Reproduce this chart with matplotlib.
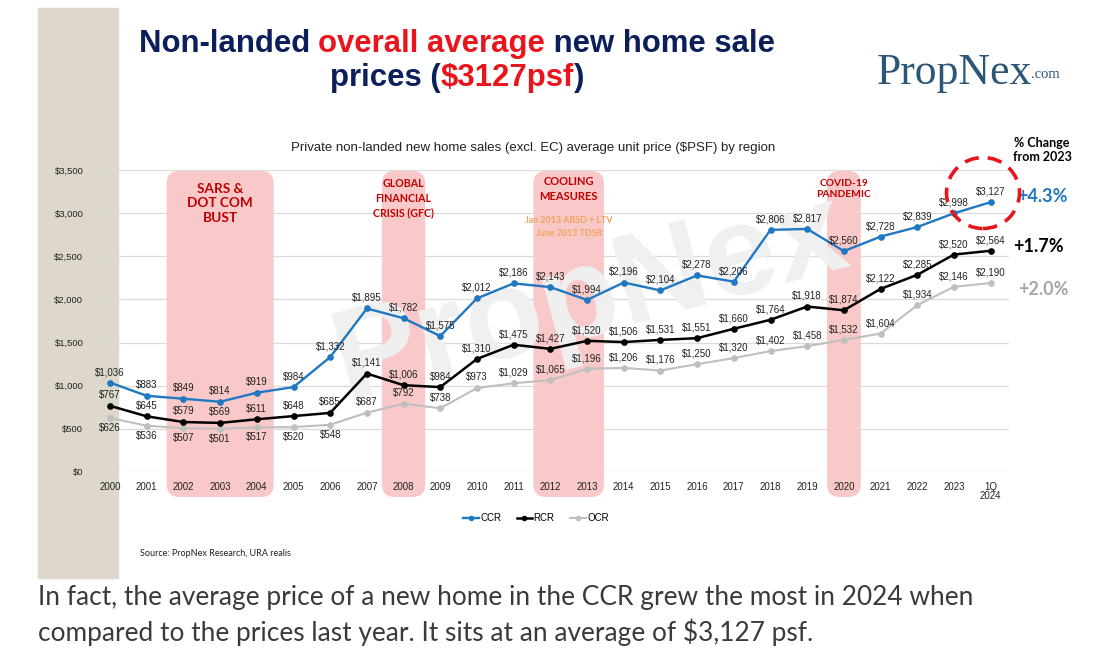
import numpy as np
import matplotlib
matplotlib.use("Agg")
import matplotlib.pyplot as plt
from matplotlib.patches import FancyBboxPatch, Rectangle, Ellipse
from matplotlib.offsetbox import TextArea, HPacker, AnnotationBbox
from matplotlib.lines import Line2D

# ---- data ----
years = ["2000", "2001", "2002", "2003", "2004", "2005", "2006", "2007", "2008", "2009",
         "2010", "2011", "2012", "2013", "2014", "2015", "2016", "2017", "2018", "2019",
         "2020", "2021", "2022", "2023", "1Q\n2024"]
ccr = [1036, 883, 849, 814, 919, 984, 1332, 1895, 1782, 1575, 2012, 2186, 2143, 1994,
       2196, 2104, 2278, 2206, 2806, 2817, 2560, 2728, 2839, 2998, 3127]
rcr = [767, 645, 579, 569, 611, 648, 685, 1141, 1006, 984, 1310, 1475, 1427, 1520,
       1506, 1531, 1551, 1660, 1764, 1918, 1874, 2122, 2285, 2520, 2564]
ocr = [626, 536, 507, 501, 517, 520, 548, 687, 792, 738, 973, 1029, 1065, 1196,
       1206, 1176, 1250, 1320, 1402, 1458, 1532, 1604, 1934, 2146, 2190]
yticks = [0, 500, 1000, 1500, 2000, 2500, 3000, 3500]

# shaded events: (first index, last index)
events = [(2, 4), (8, 8), (12, 13), (20, 20)]
changes = ["+4.3%", "+1.7%", "+2.0%"]

W, H = 1100, 651
NAVY = "#0C1F5B"
RED = "#E8161C"
BLUE = "#1F78C1"
GREY = "#BFBFBF"
DARKRED = "#C00000"


def fx(px):
    return px / W


def fy(py):
    return 1 - py / H


fig = plt.figure(figsize=(11, 6.51), dpi=100)
fig.patch.set_facecolor("white")

# beige strip on the left
fig.patches.append(Rectangle((fx(38), fy(578)), fx(118) - fx(38), fy(8) - fy(578),
                             transform=fig.transFigure, color="#DDD8CB", zorder=-1))

ax = fig.add_axes([fx(97.2), fy(472), fx(1009) - fx(97.2), fy(170) - fy(472)])
ax.set_zorder(2)
ax.set_facecolor("none")
x = np.arange(len(years))
ax.set_xlim(-0.35, 24.5)
ax.set_ylim(0, 3500)

for s in ax.spines.values():
    s.set_visible(False)
ax.set_yticks(yticks)
ax.set_yticklabels(["${:,}".format(v) for v in yticks], fontsize=6.8, color="#222222",
                   family="Liberation Sans")
ax.set_xticks(x)
ax.set_xticklabels(years, fontsize=7, color="#222222", family="Liberation Sans",
                   linespacing=0.95)
ax.tick_params(axis="y", length=0, pad=10)
ax.tick_params(axis="x", length=0, pad=7)
for v in yticks:
    ax.axhline(v, color="#DADADA", lw=0.9, zorder=0.5)

# rounded event bands
fig.canvas.draw()
bb = ax.get_window_extent()
px_per_x = bb.width / 24.85
px_per_y = bb.height / 3500
asp = px_per_x / px_per_y
for i0, i1 in events:
    half = 0.59 if i0 == i1 == 8 else 0.46
    band = FancyBboxPatch((i0 - half, -290), (i1 - i0) + 2 * half, 3780,
                          boxstyle="round,pad=0,rounding_size=0.35",
                          mutation_aspect=asp, fc="#F9C8C8", ec="none",
                          zorder=0.8, clip_on=False)
    ax.add_patch(band)

# watermark
ax.text(13.1, 2000, "PropNex", fontsize=92, fontweight="bold", color="#F0F0F0",
        rotation=15, ha="center", va="center", zorder=0.9, family="Liberation Sans")

# lines
ax.plot(x, ocr, color=GREY, lw=1.5, marker="o", ms=3.8, zorder=3, label="OCR")
ax.plot(x, rcr, color="black", lw=1.8, marker="o", ms=3.8, zorder=4, label="RCR")
ax.plot(x, ccr, color=BLUE, lw=1.7, marker="o", ms=3.8, zorder=5, label="CCR")

lab = dict(fontsize=7, color="#222222", family="Liberation Sans", ha="center", zorder=6)
for i in range(len(years)):
    ax.annotate("${:,}".format(ccr[i]), (x[i], ccr[i]), xytext=(0, 4),
                textcoords="offset points", va="bottom", **lab)
    ax.annotate("${:,}".format(rcr[i]), (x[i], rcr[i]), xytext=(0, 4),
                textcoords="offset points", va="bottom", **lab)
    if i <= 6:
        ax.annotate("${:,}".format(ocr[i]), (x[i], ocr[i]), xytext=(0, -3.5),
                    textcoords="offset points", va="top", **lab)
    else:
        ax.annotate("${:,}".format(ocr[i]), (x[i], ocr[i]), xytext=(0, 4),
                    textcoords="offset points", va="bottom", **lab)

# event labels
ev = dict(color=DARKRED, fontweight="bold", family="Lato", ha="center", va="center",
          zorder=6)
ax.text(3, 3117, "SARS &\nDOT COM\nBUST", fontsize=9.8, linespacing=1.25, **ev)
ax.text(8, 3175, "GLOBAL\nFINANCIAL\nCRISIS (GFC)", fontsize=7.7, linespacing=1.35, **ev)
ax.text(12.5, 3280, "COOLING\nMEASURES", fontsize=8, linespacing=1.35, **ev)
ax.text(12.5, 2840, "Jan 2013 ABSD + LTV\nJune 2013 TDSR", fontsize=6.4, color="#F0A35A",
        fontweight="bold", family="Lato", ha="center", va="center", linespacing=1.45,
        zorder=6)
ax.text(20, 3280, "COVID-19\nPANDEMIC", fontsize=7.4, linespacing=1.35, **ev)

# legend
handles = [Line2D([], [], color=BLUE, lw=1.7, marker="o", ms=3),
           Line2D([], [], color="black", lw=1.8, marker="o", ms=3),
           Line2D([], [], color=GREY, lw=1.5, marker="o", ms=3)]
fig.legend(handles, ["CCR", "RCR", "OCR"], loc="center",
           bbox_to_anchor=(fx(536), fy(518)), ncol=3, frameon=False,
           prop={"family": "Liberation Sans", "size": 7}, handlelength=1.6,
           handletextpad=0.15, columnspacing=1.6)

# title with mixed colours
tp = dict(fontsize=22.4, fontweight="bold", family="Liberation Sans")
line1 = HPacker(children=[TextArea("Non-landed ", textprops=dict(color=NAVY, **tp)),
                          TextArea("overall average", textprops=dict(color=RED, **tp)),
                          TextArea(" new home sale", textprops=dict(color=NAVY, **tp))],
                sep=0, pad=0, align="baseline")
line2 = HPacker(children=[TextArea("prices (", textprops=dict(color=NAVY, **tp)),
                          TextArea("$3127psf", textprops=dict(color=RED, **tp)),
                          TextArea(")", textprops=dict(color=NAVY, **tp))],
                sep=0, pad=0, align="baseline")
for box, py in [(line1, 44), (line2, 78)]:
    fig.add_artist(AnnotationBbox(box, (fx(457), fy(py)), xycoords="figure fraction",
                                  frameon=False, box_alignment=(0.5, 0.5), pad=0))

# PropNex logo
fig.text(fx(877), fy(84), "PropNex", fontsize=31.5, color="#2C5676",
         family="Liberation Serif", ha="left", va="baseline")
fig.text(fx(1031), fy(78), ".com", fontsize=10.5, color="#2C5676",
         family="Liberation Serif", ha="left", va="baseline")

# subtitle
fig.text(fx(533), fy(148),
         "Private non-landed new home sales (excl. EC) average unit price ($PSF) by region",
         fontsize=9.5, color="#222222", family="Liberation Sans", ha="center", va="center")

# % change annotations
fig.text(fx(1042), fy(150), "% Change\nfrom 2023", fontsize=9, fontweight="bold",
         family="Lato", ha="center", va="center", linespacing=1.15, color="black")
for txt, col, px, py in zip(changes, [BLUE, "black", "#A6A6A6"],
                            [1042, 1038, 1043], [197, 247, 290]):
    fig.text(fx(px), fy(py), txt, fontsize=13, fontweight="bold", family="Lato",
             ha="center", va="center", color=col)

fig.patches.append(Ellipse((fx(983), fy(193)), 73 / W, 71 / H, transform=fig.transFigure,
                           fill=False, ec="#E8161C", lw=2.6, ls=(0, (4, 2.5)), zorder=7))

# source
fig.text(fx(140), fy(554), "Source: PropNex Research, URA realis", fontsize=6.5,
         family="Lato", color="#222222", ha="left", va="center")

# caption below the chart
cap = dict(fontsize=18.9, family="Lato", fontweight="normal", color="#3a3a3a",
           ha="left", va="center")
fig.text(fx(38), fy(597),
         "In fact, the average price of a new home in the CCR grew the most in 2024 when",
         **cap)
fig.text(fx(38), fy(632),
         "compared to the prices last year. It sits at an average of $3,127 psf.", **cap)

fig.savefig("out.png", dpi=100, facecolor="white")
